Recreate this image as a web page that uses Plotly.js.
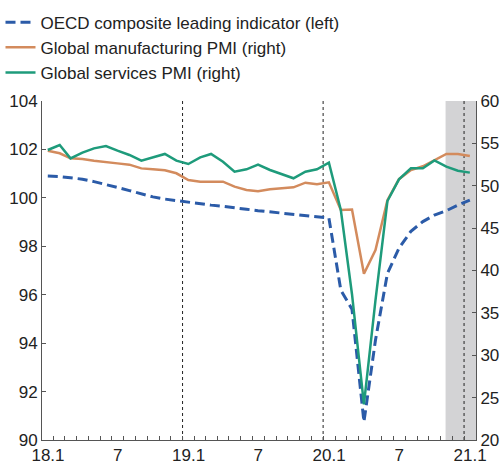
<!DOCTYPE html>
<html>
<head>
<meta charset="utf-8">
<script src="https://cdn.plot.ly/plotly-3.0.1.min.js"></script>
<style>html,body{margin:0;padding:0;background:#fff;}#chart{width:500px;height:468px;}</style>
</head>
<body>
<div id="chart"></div>
<script>
// Months (2018.1 – 2021.1), one point per month
var months = ['2018-01','2018-02','2018-03','2018-04','2018-05','2018-06','2018-07','2018-08','2018-09','2018-10','2018-11','2018-12',
              '2019-01','2019-02','2019-03','2019-04','2019-05','2019-06','2019-07','2019-08','2019-09','2019-10','2019-11','2019-12',
              '2020-01','2020-02','2020-03','2020-04','2020-05','2020-06','2020-07','2020-08','2020-09','2020-10','2020-11','2020-12',
              '2021-01'];

// OECD composite leading indicator (left axis)
var oecd = [100.90,100.88,100.83,100.77,100.67,100.56,100.43,100.30,100.16,100.04,99.95,99.88,
            99.81,99.76,99.70,99.65,99.58,99.53,99.47,99.42,99.37,99.33,99.29,99.25,
            99.17,96.19,95.40,90.75,94.13,96.88,97.92,98.62,99.02,99.29,99.47,99.70,
            99.91];

// Global manufacturing PMI (right axis)
var mfg = [54.14,53.83,53.24,53.16,52.96,52.84,52.64,52.49,52.05,51.94,51.82,51.47,
           50.68,50.48,50.48,50.48,49.89,49.50,49.34,49.58,49.70,49.81,50.36,50.17,
           50.40,47.14,47.20,39.62,42.42,48.30,50.78,51.85,52.30,53.04,53.75,53.75,
           53.51];

// Global services PMI (right axis)
var svc = [54.22,54.81,53.23,53.90,54.41,54.69,54.14,53.63,52.96,53.35,53.75,52.96,
           52.57,53.35,53.75,52.84,51.66,51.94,52.49,51.86,51.39,50.88,51.66,51.94,
           52.72,47.14,37.20,24.20,36.50,48.20,50.76,52.06,52.06,52.98,52.25,51.78,
           51.55];

// Axis tick labels
var xTickVals = ['2018-01','2018-02','2018-03','2018-04','2018-05','2018-06','2018-07','2018-08','2018-09','2018-10','2018-11','2018-12',
                 '2019-01','2019-02','2019-03','2019-04','2019-05','2019-06','2019-07','2019-08','2019-09','2019-10','2019-11','2019-12',
                 '2020-01','2020-02','2020-03','2020-04','2020-05','2020-06','2020-07','2020-08','2020-09','2020-10','2020-11','2020-12',
                 '2021-01','2021-02'];
var xTickText = ['18.1','','','','','','7','','','','','',
                 '19.1','','','','','','7','','','','','',
                 '20.1','','','','','','7','','','','','',
                 '21.1',''];
var yearStarts = ['2019-01-01','2020-01-01','2021-01-01'];
var shadeStart = '2020-11-14', shadeEnd = '2021-02-01';

var x = months.map(function(m){ return m + '-16'; });
var tickFont = {family: '"Liberation Sans Narrow", "Arial Narrow", sans-serif', size: 17, color: '#222'};
var axisColor = '#555';

var traces = [
  {x: x, y: oecd, name: 'OECD composite leading indicator (left)', type: 'scatter', mode: 'lines',
   yaxis: 'y', line: {color: '#2b5ba8', width: 3, dash: '10px,5px'}},
  {x: x, y: mfg, name: 'Global manufacturing PMI (right)', type: 'scatter', mode: 'lines',
   yaxis: 'y2', line: {color: '#d38b5d', width: 2.5}},
  {x: x, y: svc, name: 'Global services PMI (right)', type: 'scatter', mode: 'lines',
   yaxis: 'y2', line: {color: '#1e9b7b', width: 2.5}}
];

var shapes = [{type: 'rect', xref: 'x', yref: 'paper', x0: shadeStart, x1: shadeEnd, y0: 0, y1: 1,
               fillcolor: '#d3d3d5', line: {width: 0}, layer: 'below'}];
yearStarts.forEach(function(d){
  shapes.push({type: 'line', xref: 'x', yref: 'paper', x0: d, x1: d, y0: 0, y1: 1,
               line: {color: '#222', width: 1, dash: 'dot'}, layer: 'below'});
});

var layout = {
  width: 500, height: 468,
  margin: {l: 42, r: 24, t: 101, b: 28, pad: 0, autoexpand: false},
  paper_bgcolor: '#fff', plot_bgcolor: 'rgba(0,0,0,0)',
  showlegend: true,
  legend: {xref: 'container', yref: 'container', x: 0.001, y: 0.99, xanchor: 'left', yanchor: 'top',
           font: {family: '"Liberation Sans", Arial, sans-serif', size: 17, color: '#222'},
           bgcolor: 'rgba(0,0,0,0)', tracegroupgap: 0},
  xaxis: {type: 'date', range: ['2018-01-01', '2021-02-01'], tickmode: 'array',
          tickvals: xTickVals.map(function(m){ return m + '-01'; }), ticktext: xTickText,
          ticks: 'inside', ticklen: 4, tickcolor: axisColor, ticklabelshift: 6,
          showline: true, linecolor: axisColor, linewidth: 1, showgrid: false, zeroline: false,
          tickfont: tickFont, automargin: false},
  yaxis: {range: [90, 104], dtick: 2, tick0: 90, ticks: 'inside', ticklen: 4, tickcolor: axisColor,
          showline: true, linecolor: axisColor, linewidth: 1, showgrid: false, zeroline: false,
          tickfont: tickFont, automargin: false},
  yaxis2: {range: [20, 60], dtick: 5, tick0: 20, overlaying: 'y', side: 'right', ticks: 'inside', ticklen: 4,
           tickcolor: axisColor, showline: true, linecolor: axisColor, linewidth: 1, showgrid: false,
           zeroline: false, tickfont: tickFont, automargin: false},
  shapes: shapes
};

Plotly.newPlot('chart', traces, layout, {displayModeBar: false, staticPlot: true});
</script>
</body>
</html>
